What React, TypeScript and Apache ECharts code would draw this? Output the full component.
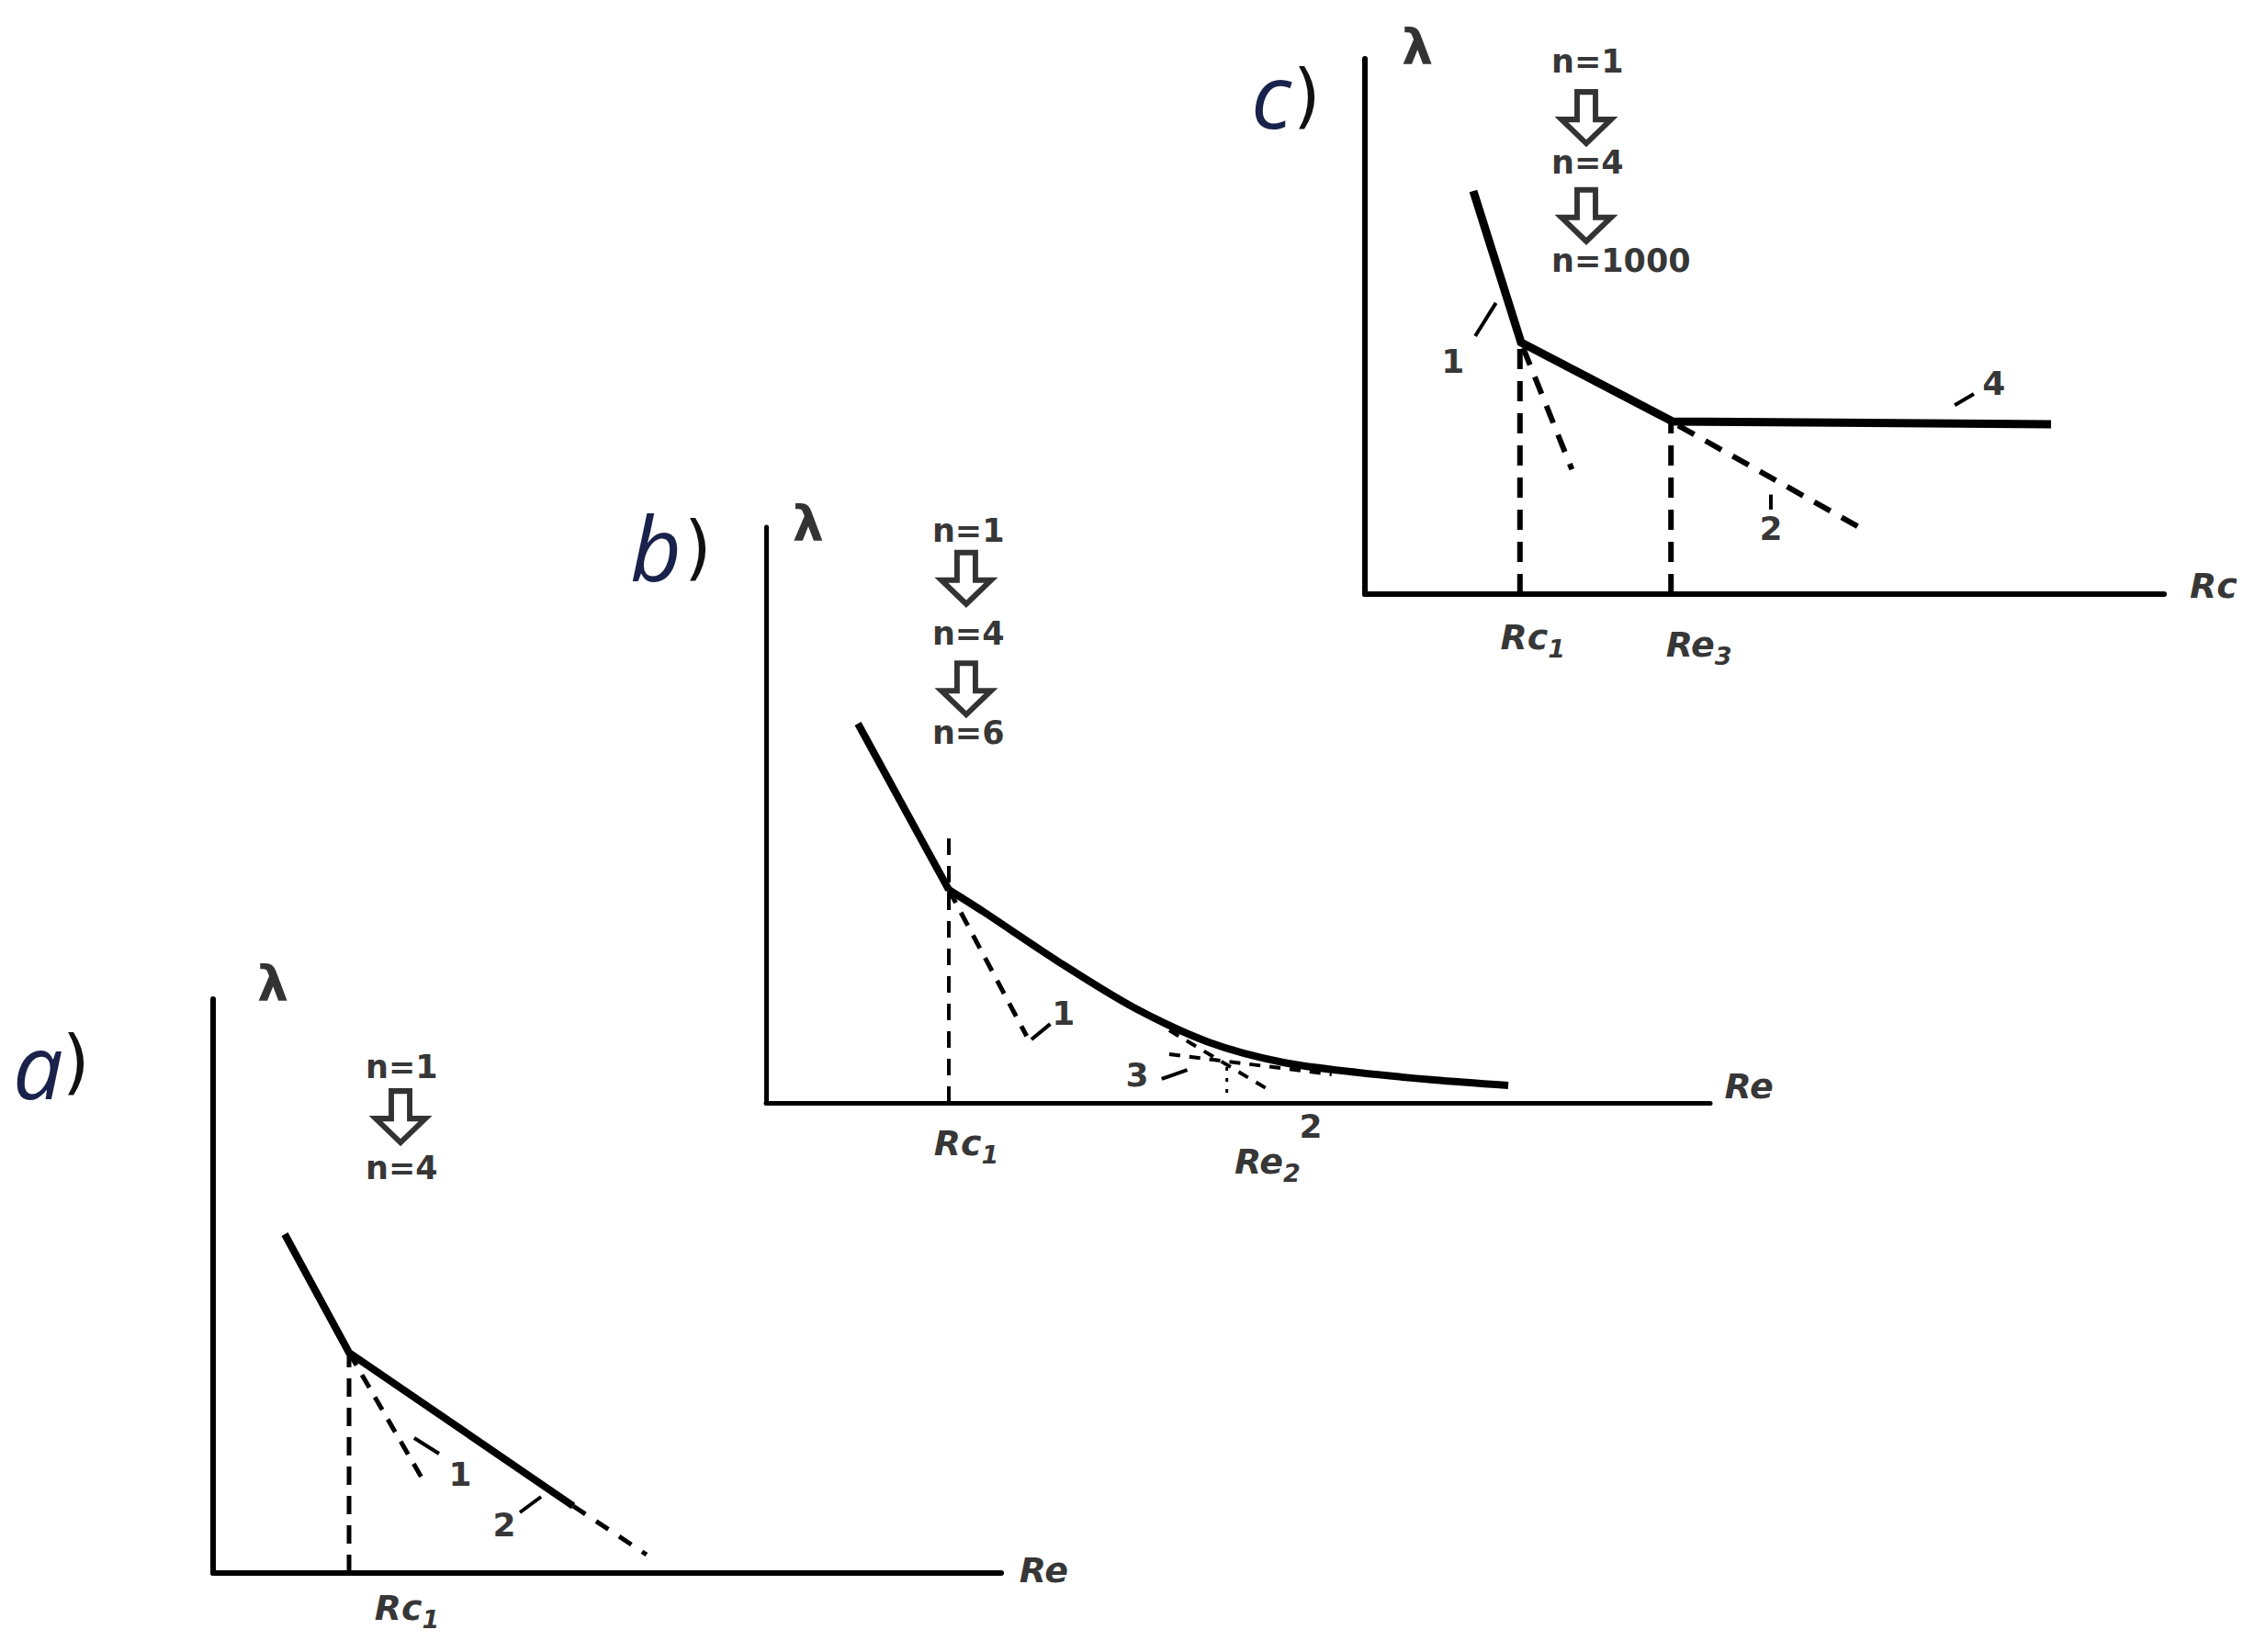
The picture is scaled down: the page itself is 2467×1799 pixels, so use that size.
import React, { useEffect, useRef } from "react";
import * as echarts from "echarts";

// ---------- Panel a ----------
const aMain = [[9.09, 59.04], [17.25, 38.4], [45.69, 11.68]];
const aTail = [[45.69, 11.68], [55.0, 3.2]];
const aRc1 = [[17.25, 0], [17.25, 38.4]];
const aBranch1 = [[17.25, 38.4], [26.46, 16.64]];
const aLead1 = [[25.52, 23.52], [28.67, 20.8]];
const aLead2 = [[38.93, 10.56], [41.61, 13.28]];
const aGreek: [string, number, number][] = [["λ", 7.58, 102.6]];
const aN: [string, number, number][] = [["n=1", 19.35, 88.2], ["n=4", 19.35, 70.6]];
const aArrows = [[23.78, 79.5]];
const aAxisText: [string, number, number][] = [["Re", 105.4, 0.5], ["Rc₁", 24.6, -6.1]];
const aNums: [string, number, number][] = [["1", 31.35, 17.28], ["2", 36.95, 8.48]];

// ---------- Panel b ----------
const bStraight = [[9.73, 65.87], [19.36, 37.0]];
const bCurve = [[19.36, 37.0], [23.05, 33.17], [30.93, 24.56], [38.91, 16.59], [46.89, 10.53], [54.77, 7.02], [62.74, 5.26], [70.72, 3.99], [78.6, 3.03]];
const bRc1 = [[19.36, 0], [19.36, 46.1]];
const bBranch1 = [[19.36, 37.0], [27.6, 11.6]];
const bLead1 = [[28.1, 11.0], [30.1, 13.7]];
const bBranch2 = [[42.7, 12.6], [53.4, 2.1]];
const bBranch3 = [[42.7, 8.45], [59.9, 4.94]];
const bRe2 = [[48.8, 1.75], [48.8, 6.5]];
const bLead3 = [[41.9, 4.15], [44.6, 5.74]];
const bGreek: [string, number, number][] = [["λ", 4.47, 100.6]];
const bN: [string, number, number][] = [["n=1", 17.6, 99.4], ["n=4", 17.6, 81.5], ["n=6", 17.6, 64.3]];
const bArrows = [[21.2, 91.1], [21.2, 71.9]];
const bAxisText: [string, number, number][] = [["Re", 104.1, 2.9], ["Rc₁", 21.2, -7.0], ["Re₂", 53.1, -10.2]];
const bNums: [string, number, number][] = [["1", 31.5, 15.6], ["3", 39.3, 4.9], ["2", 57.7, -4.0]];

// ---------- Panel c ----------
const cMain = [[13.56, 75.3], [19.54, 47.0], [38.5, 32.25], [85.86, 31.73]];
const cRc1 = [[19.4, 0], [19.4, 47.0]];
const cRe3 = [[38.3, 0], [38.3, 32.2]];
const cBranch1 = [[19.8, 46.0], [25.9, 23.3]];
const cBranch2 = [[39.2, 31.5], [62.1, 12.3]];
const cLead1 = [[13.8, 48.2], [16.4, 54.4]];
const cLead2 = [[50.8, 18.6], [50.8, 15.8]];
const cLead4 = [[73.8, 35.3], [76.2, 37.4]];
const cGreek: [string, number, number][] = [["λ", 6.55, 102.1]];
const cN: [string, number, number][] = [["n=1", 23.33, 99.5], ["n=4", 23.33, 80.6], ["n=1000", 23.33, 62.3]];
const cArrows = [[27.7, 89.0], [27.7, 70.7]];
const cAxisText: [string, number, number][] = [["Rc", 106.2, 1.5], ["Rc₁", 21.0, -8.1], ["Re₃", 41.8, -9.4]];
const cNums: [string, number, number][] = [["1", 11.0, 43.4], ["2", 50.8, 12.2], ["4", 78.7, 39.3]];

const ARROW = "path://M17,0L37,0L37,30L54,30L27,56L0,30L17,30Z";
const SUBS = "₀₁₂₃₄₅₆₇₈₉";

function line(idx: number, data: number[][], width: number, type: any = "solid", smooth: any = false) {
  return {
    type: "line",
    xAxisIndex: idx,
    yAxisIndex: idx,
    data,
    symbol: "none",
    smooth,
    clip: false,
    silent: true,
    z: 3,
    lineStyle: { color: "#000", width, type, join: "miter", cap: "butt" },
  };
}

function labels(idx: number, items: [string, number, number][], style: any, align = "center", rich?: any) {
  return {
    type: "scatter",
    xAxisIndex: idx,
    yAxisIndex: idx,
    symbol: "circle",
    symbolSize: 1,
    clip: false,
    silent: true,
    z: 5,
    itemStyle: { color: "transparent" },
    data: items.map(([t, x, y]) => ({ name: t, value: [x, y] })),
    label: {
      show: true,
      position: "inside",
      formatter: rich
        ? (p: any) => {
            const t: string = p.name;
            const last = t.slice(-1);
            const k = SUBS.indexOf(last);
            if (k >= 0) return `{m|${t.slice(0, -1)}}{s|${k}}`;
            return `{m|${t}}`;
          }
        : "{b}",
      align,
      verticalAlign: "middle",
      color: "#000",
      ...style,
      ...(rich ? { rich } : {}),
    },
  };
}

function arrows(idx: number, pts: number[][]) {
  return {
    type: "scatter",
    xAxisIndex: idx,
    yAxisIndex: idx,
    symbol: ARROW,
    symbolSize: [54, 56],
    clip: false,
    silent: true,
    z: 5,
    itemStyle: { color: "#fff", borderColor: "#000", borderWidth: 6 },
    data: pts,
  };
}

const greekStyle = { fontFamily: "DejaVu Sans", fontSize: 54, fontWeight: "bold" };
const nStyle = { fontFamily: "DejaVu Sans", fontSize: 35, fontWeight: "bold" };
const axisTextStyle = { fontFamily: "DejaVu Sans", fontSize: 38, fontWeight: "bold", fontStyle: "italic" };
const axisRich = {
  m: { fontFamily: "DejaVu Sans", fontSize: 38, fontWeight: "bold", fontStyle: "italic", color: "#000", lineHeight: 52 },
  s: { fontFamily: "DejaVu Sans", fontSize: 27, fontWeight: "bold", fontStyle: "italic", color: "#000", lineHeight: 27, verticalAlign: "bottom" },
};
const numStyle = { fontFamily: "DejaVu Sans", fontSize: 36, fontWeight: "bold" };

const grids = [
  { left: 232, top: 1088, width: 858, height: 625, axisW: 6 },
  { left: 834, top: 574, width: 1028, height: 627, axisW: 5 },
  { left: 1486, top: 64, width: 870, height: 583, axisW: 6 },
];

function panelLetter(letter: string, lx: number, ly: number, px: number, py: number) {
  return [
    {
      type: "text",
      x: lx,
      y: ly,
      style: {
        text: letter,
        font: 'italic 97px "Open Sans"',
        fill: "#18224a",
        textAlign: "left",
        textVerticalAlign: "middle",
        align: "left",
        verticalAlign: "middle",
      },
    },
    {
      type: "text",
      x: px,
      y: py,
      style: {
        text: ")",
        font: '76px "DejaVu Sans"',
        fill: "#111",
        textAlign: "left",
        textVerticalAlign: "middle",
        align: "left",
        verticalAlign: "middle",
      },
    },
  ];
}

export default function App() {
  const ref = useRef<HTMLDivElement>(null);
  useEffect(() => {
    document.body.style.margin = "0";
    const chart = echarts.init(ref.current!, undefined, { renderer: "svg" });
    const axisBase = (i: number) => ({
      gridIndex: i,
      type: "value",
      min: 0,
      max: 100,
      axisLine: { show: true, onZero: false, lineStyle: { color: "#000", width: grids[i].axisW } },
      axisTick: { show: false },
      axisLabel: { show: false },
      splitLine: { show: false },
    });
    chart.setOption({
      animation: false,
      backgroundColor: "#fff",
      grid: grids.map((g) => ({ left: g.left, top: g.top, width: g.width, height: g.height })),
      xAxis: [0, 1, 2].map(axisBase),
      yAxis: [0, 1, 2].map(axisBase),
      graphic: [
        ...panelLetter("a", 14, 1159, 68, 1155),
        ...panelLetter("b", 686, 595, 745, 595),
        ...panelLetter("c", 1362, 102, 1408, 103),
      ],
      series: [
        // panel a
        line(0, aMain, 8),
        line(0, aTail, 5, [16, 14]),
        line(0, aRc1, 5, [20, 12]),
        line(0, aBranch1, 5, [16, 12]),
        line(0, aLead1, 4),
        line(0, aLead2, 4),
        labels(0, aGreek, greekStyle),
        labels(0, aN, nStyle, "left"),
        arrows(0, aArrows),
        labels(0, aAxisText, axisTextStyle, "center", axisRich),
        labels(0, aNums, numStyle),
        // panel b
        line(1, bStraight, 8),
        line(1, bCurve, 8, "solid", 0.3),
        line(1, bRc1, 4, [18, 12]),
        line(1, bBranch1, 5, [16, 12]),
        line(1, bLead1, 4),
        line(1, bBranch2, 4, [12, 10]),
        line(1, bBranch3, 4, [12, 10]),
        line(1, bRe2, 3, [4, 8]),
        line(1, bLead3, 4),
        labels(1, bGreek, greekStyle),
        labels(1, bN, nStyle, "left"),
        arrows(1, bArrows),
        labels(1, bAxisText, axisTextStyle, "center", axisRich),
        labels(1, bNums, numStyle),
        // panel c
        line(2, cMain, 9),
        line(2, cRc1, 6, [22, 13]),
        line(2, cRe3, 6, [22, 13]),
        line(2, cBranch1, 6, [20, 14]),
        line(2, cBranch2, 6, [20, 14]),
        line(2, cLead1, 4),
        line(2, cLead2, 4),
        line(2, cLead4, 4),
        labels(2, cGreek, greekStyle),
        labels(2, cN, nStyle, "left"),
        arrows(2, cArrows),
        labels(2, cAxisText, axisTextStyle, "center", axisRich),
        labels(2, cNums, numStyle),
      ],
    });
    return () => chart.dispose();
  }, []);
  return <div ref={ref} style={{ width: 2467, height: 1799 }} />;
}
